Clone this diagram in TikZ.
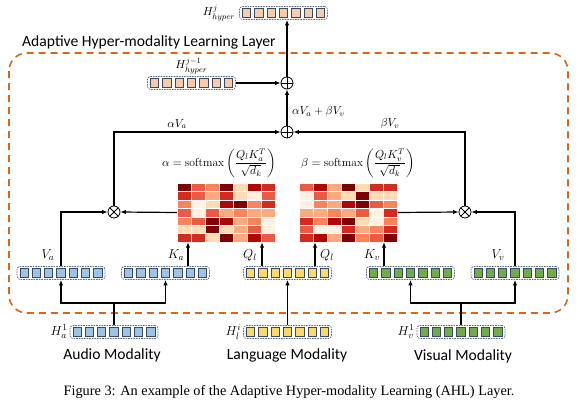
\RequirePackage{fix-cm}
\documentclass[tikz,border=0pt]{standalone}
\usepackage{amsmath}
\usepackage{fontspec}
\newfontfamily\calibri{Carlito}
\newfontfamily\timesf{Liberation Serif}
\usetikzlibrary{arrows.meta,calc}
\definecolor{h0}{HTML}{FFF2E2}
\definecolor{h1}{HTML}{FDDCB6}
\definecolor{h2}{HTML}{FCAB80}
\definecolor{h3}{HTML}{F8845C}
\definecolor{h4}{HTML}{EC5A43}
\definecolor{h5}{HTML}{D52B1E}
\definecolor{h6}{HTML}{B00606}
\definecolor{h7}{HTML}{7F0000}
\definecolor{audc}{HTML}{9DC3E6}
\definecolor{lanc}{HTML}{FFD966}
\definecolor{visc}{HTML}{70AD47}
\definecolor{hypc}{HTML}{F8CBAD}
\definecolor{cellb}{HTML}{3B4A63}
\definecolor{vecb}{HTML}{5A6A85}
\definecolor{orng}{HTML}{D2691E}
\newcommand\featvec[4]{%
  \node[vecbox] (#1) at (#2,#3) {};
  \foreach \i in {-3,...,3} \node[cellbox, fill=#4] at ({#2+\i*12.3},#3) {};
}
\newcommand\heatmap[3]{% x0, y0, rows
  \foreach \rowv [count=\r] in {#3}{
    \foreach \v [count=\c] in \rowv {
      \filldraw[fill=h\v, draw=white, line width=0.4pt] ({#1+14*(\c-1)},{#2+8.43*(\r-1)}) rectangle ++(14,8.43);
    }
  }
}
\begin{document}
\begin{tikzpicture}[x=1pt,y=-1pt,
  arr/.style={-{Latex[length=5.5pt,width=4.5pt]}, line width=1.2pt},
  ln/.style={line width=1.2pt},
  vecbox/.style={draw=vecb, dash pattern=on 1.6pt off 1pt, rounded corners=3pt, fill=white, minimum width=88pt, minimum height=13pt, inner sep=0pt, line width=0.7pt},
  cellbox/.style={draw=cellb, line width=0.8pt, minimum size=8.3pt, inner sep=0pt},
  mlab/.style={font=\fontsize{13}{15}\selectfont, inner sep=1pt},
  flab/.style={font=\fontsize{11.6}{14}\selectfont, inner sep=1pt},
  clab/.style={font=\calibri\fontsize{15.6}{18}\selectfont, inner sep=0pt},
  opnode/.style={circle, draw, line width=0.8pt, minimum size=12pt, inner sep=0pt, fill=white},
  plus/.style={opnode, path picture={\draw[line width=0.8pt] (path picture bounding box.north) -- (path picture bounding box.south) (path picture bounding box.west) -- (path picture bounding box.east);}},
  times/.style={opnode, path picture={\draw[line width=0.8pt] (path picture bounding box.north west) -- (path picture bounding box.south east) (path picture bounding box.south west) -- (path picture bounding box.north east);}},
  hmbox/.style={minimum width=98pt, minimum height=59pt, inner sep=0pt}
]
\useasboundingbox (0,0) rectangle (579,405);

% layer frame
\draw[orng, line width=1.6pt, dash pattern=on 7pt off 5pt, rounded corners=18pt] (9,53) rectangle (568,313);
\node[clab, anchor=west] (title) at (22,42) {Adaptive Hyper-modality Learning Layer};

% heatmaps
\node[hmbox] (hmL) at (226,212.5) {};
\node[hmbox] (hmR) at (348.5,212.5) {};
\heatmap{177}{183}{{7,4,3,7,1,6,5},{5,4,2,5,1,0,4},{3,0,1,6,7,3,5},{4,0,4,2,3,2,2},{3,4,7,6,2,3,0},{1,1,7,1,2,4,0},{5,5,1,7,2,6,4}}
\heatmap{299.5}{183}{{4,6,2,7,1,5,5},{0,4,2,1,7,1,1},{0,3,2,6,7,4,3},{2,2,3,2,4,0,5},{5,3,6,7,1,0,3},{4,0,0,5,2,3,5},{5,6,2,7,3,4,7}}

% operators
\node[plus] (pU) at (287,83) {};
\node[plus] (pL) at (287,132) {};
\node[times] (tL) at (114,212) {};
\node[times] (tR) at (465,212) {};

% vectors
\featvec{hJ}{283.5}{13}{hypc}
\featvec{hJm}{191.5}{83}{hypc}
\featvec{Va}{61}{273}{audc}
\featvec{Ka}{165.5}{273}{audc}
\featvec{Ql}{287.5}{273}{lanc}
\featvec{Kv}{410.5}{273}{visc}
\featvec{Vv}{515}{273}{visc}
\featvec{Ha}{114}{332}{audc}
\featvec{Hl}{287.5}{332}{lanc}
\featvec{Hv}{461}{332}{visc}

% labels
\node[flab, anchor=east] (lhJ) at ([xshift=-3pt]hJ.west) {$H^{j}_{hyper}$};
\node[flab, anchor=south] (lhJm) at ([yshift=1pt]hJm.north) {$H^{j-1}_{hyper}$};
\node[flab, anchor=west] (lsum) at (291,112) {$\alpha V_a+\beta V_v$};
\node[flab] (laV) at (177,124) {$\alpha V_a$};
\node[flab] (lbV) at (390,124) {$\beta V_v$};
\node[flab] (fa) at (219,163) {$\alpha=\mathrm{softmax}\left(\dfrac{Q_lK_a^T}{\sqrt{d_k}}\right)$};
\node[flab] (fb) at (358,163) {$\beta=\mathrm{softmax}\left(\dfrac{Q_lK_v^T}{\sqrt{d_k}}\right)$};
\node[mlab] (lVa) at (48,255) {$V_a$};
\node[mlab] (lKa) at (176,255) {$K_a$};
\node[mlab] (lQa) at (250,255) {$Q_l$};
\node[mlab] (lQb) at (327,255) {$Q_l$};
\node[mlab] (lKv) at (372,255) {$K_v$};
\node[mlab] (lVv) at (498,255) {$V_v$};
\node[mlab, anchor=east] (lHa) at ([xshift=-1pt]Ha.west) {$H_a^1$};
\node[mlab, anchor=east] (lHl) at ([xshift=-1pt]Hl.west) {$H_l^i$};
\node[mlab, anchor=east] (lHv) at ([xshift=-1pt]Hv.west) {$H_v^1$};
\node[clab] (mA) at (112,355) {Audio Modality};
\node[clab] (mL) at (287,355) {Language Modality};
\node[clab] (mV) at (463,356) {Visual Modality};
\node[font=\timesf\fontsize{14.3}{17}\selectfont] (cap) at (289,392) {Figure 3: An example of the Adaptive Hyper-modality Learning (AHL) Layer.};

% connectors
\draw[arr] (pU.north) -- (pU.north |- hJ.south);
\draw[arr] (hJm.east) -- (pU.west);
\draw[arr] (pL.north) -- (pU.south);
\draw[arr] (tL.north) |- (pL.west);
\draw[arr] (tR.north) |- (pL.east);
\draw[arr] (hmL.west) -- (tL.east);
\draw[arr] (hmR.east) -- (tR.west);
\draw[arr] (Va.north) |- (tL.west);
\draw[arr] (Vv.north) |- (tR.east);
\coordinate (kaT) at ([xshift=22.5pt]Ka.north);
\coordinate (qlA) at ([xshift=-25.5pt]Ql.north);
\coordinate (qlB) at ([xshift=27.5pt]Ql.north);
\coordinate (kvT) at ([xshift=-26.5pt]Kv.north);
\draw[arr] (kaT) -- (kaT |- hmL.south);
\draw[arr] (qlA) -- (qlA |- hmL.south);
\draw[arr] (qlB) -- (qlB |- hmR.south);
\draw[arr] (kvT) -- (kvT |- hmR.south);
\coordinate (jA) at (114,303);
\coordinate (jV) at (461,303);
\draw[ln] (Ha.north) -- (jA);
\draw[arr] (jA) -| (Va.south);
\draw[arr] (jA) -| (Ka.south);
\draw[arr] (Hl.north) -- (Ql.south);
\draw[ln] (Hv.north) -- (jV);
\draw[arr] (jV) -| (Kv.south);
\draw[arr] (jV) -| (Vv.south);
\end{tikzpicture}
\end{document}
